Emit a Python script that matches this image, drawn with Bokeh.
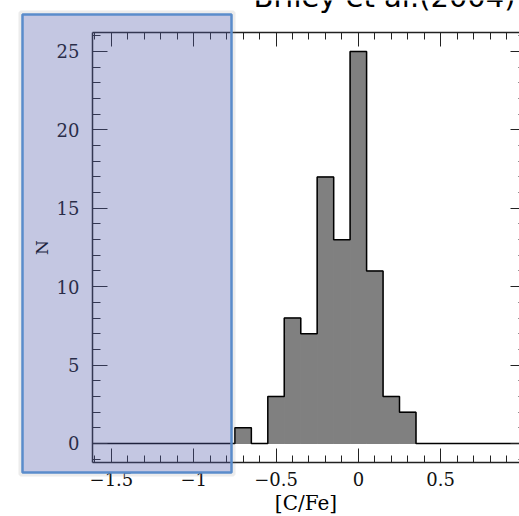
from bokeh.plotting import figure
from bokeh.models import Range1d, LinearAxis, SingleIntervalTicker, BoxAnnotation, Label
from bokeh.embed import file_html
from bokeh.resources import INLINE

# ---- data ----
bin_edges = [-0.75, -0.65, -0.55, -0.45, -0.35, -0.25, -0.15, -0.05, 0.05, 0.15, 0.25, 0.35]
counts = [1, 0, 3, 8, 7, 17, 13, 25, 11, 3, 2]
x_ticks = [-1.5, -1.0, -0.5, 0.0, 0.5, 1.0]
x_tick_labels = ["\u22121.5", "\u22121", "\u22120.5", "0", "0.5", "1"]
y_ticks = [0, 5, 10, 15, 20, 25]
y_tick_labels = ["0", "5", "10", "15", "20", "25"]
title_text = "Briley et al.(2004)"
x_label = "[C/Fe]"
y_label = "N"

# plot box limits (data units) and the visible canvas window
BOX_X = (-1.615, 1.015)
BOX_Y = (-1.21, 26.21)
VIEW_X = (-2.174, 0.979)
VIEW_Y = (-4.656, 28.25)

SERIF = "DejaVu Serif"
AX = "#222222"

p = figure(width=519, height=516, output_backend="svg", toolbar_location=None,
           x_range=Range1d(*VIEW_X), y_range=Range1d(*VIEW_Y),
           min_border=0, x_axis_location=None, y_axis_location=None)
p.outline_line_color = None
p.grid.visible = False
p.background_fill_color = "white"
p.border_fill_color = "white"


def xticker():
    return SingleIntervalTicker(interval=0.5, num_minor_ticks=5)


def yticker():
    return SingleIntervalTicker(interval=5, num_minor_ticks=5)


common = dict(axis_line_color=AX, axis_line_width=1.5, major_tick_line_color=AX,
              minor_tick_line_color=AX, major_tick_out=0, minor_tick_out=0)

bottom = LinearAxis(ticker=xticker(), axis_label=x_label, fixed_location=BOX_Y[0], bounds=BOX_X,
                    major_label_overrides=dict(zip(x_ticks, x_tick_labels)),
                    major_tick_in=14, minor_tick_in=7, major_label_standoff=10,
                    major_label_text_font=SERIF, major_label_text_font_size="18px",
                    major_label_text_color="#111111",
                    axis_label_text_font=SERIF, axis_label_text_font_size="20px",
                    axis_label_text_color="black",
                    axis_label_text_font_style="normal", axis_label_standoff=1,
                    **common)
p.add_layout(bottom, "below")

left = LinearAxis(ticker=yticker(), axis_label=y_label, fixed_location=BOX_X[0], bounds=BOX_Y,
                  major_label_overrides=dict(zip(y_ticks, y_tick_labels)),
                  major_tick_in=15, minor_tick_in=8, major_label_standoff=13,
                  major_label_text_font=SERIF, major_label_text_font_size="18px",
                  major_label_text_color="#111111",
                  axis_label_text_font=SERIF, axis_label_text_font_size="17px",
                  axis_label_text_color="black",
                  axis_label_text_font_style="normal", axis_label_standoff=2,
                  **common)
p.add_layout(left, "left")

top = LinearAxis(ticker=xticker(), fixed_location=BOX_Y[1], bounds=BOX_X,
                 major_tick_in=14, minor_tick_in=7,
                 major_label_text_font_size="0px", major_label_standoff=0, **common)
p.add_layout(top, "above")

right = LinearAxis(ticker=yticker(), fixed_location=BOX_X[1], bounds=BOX_Y,
                   major_tick_in=15, minor_tick_in=7,
                   major_label_text_font_size="0px", major_label_standoff=0, **common)
p.add_layout(right, "right")

# histogram bars
p.quad(left=bin_edges[:-1], right=bin_edges[1:], top=counts, bottom=0,
       fill_color="#808080", line_color="#808080", line_width=1)
# outline, including the zero line across the box
step_x = [BOX_X[0]] + bin_edges + [BOX_X[1]]
step_y = [0] + counts + [0, 0]
p.step(step_x, step_y, mode="after", line_color="black", line_width=1.5)

# title (cut at the top of the slide)
p.add_layout(Label(x=253, y=520, x_units="screen", y_units="screen", text=title_text,
                   text_font="DejaVu Sans", text_font_size="29px", text_color="black",
                   text_baseline="alphabetic"))

# highlight box with a soft shadow
p.add_layout(BoxAnnotation(left=20, right=233, top=504, bottom=42,
                           left_units="screen", right_units="screen",
                           top_units="screen", bottom_units="screen",
                           fill_alpha=0, line_color="gray", line_alpha=0.15, line_width=4))
p.add_layout(BoxAnnotation(left=22, right=231, top=502, bottom=44,
                           left_units="screen", right_units="screen",
                           top_units="screen", bottom_units="screen",
                           fill_color="#565fac", fill_alpha=0.35,
                           line_color="#5a8ccb", line_width=2.5, line_alpha=1))

open("out.html", "w").write(file_html(p, INLINE))
